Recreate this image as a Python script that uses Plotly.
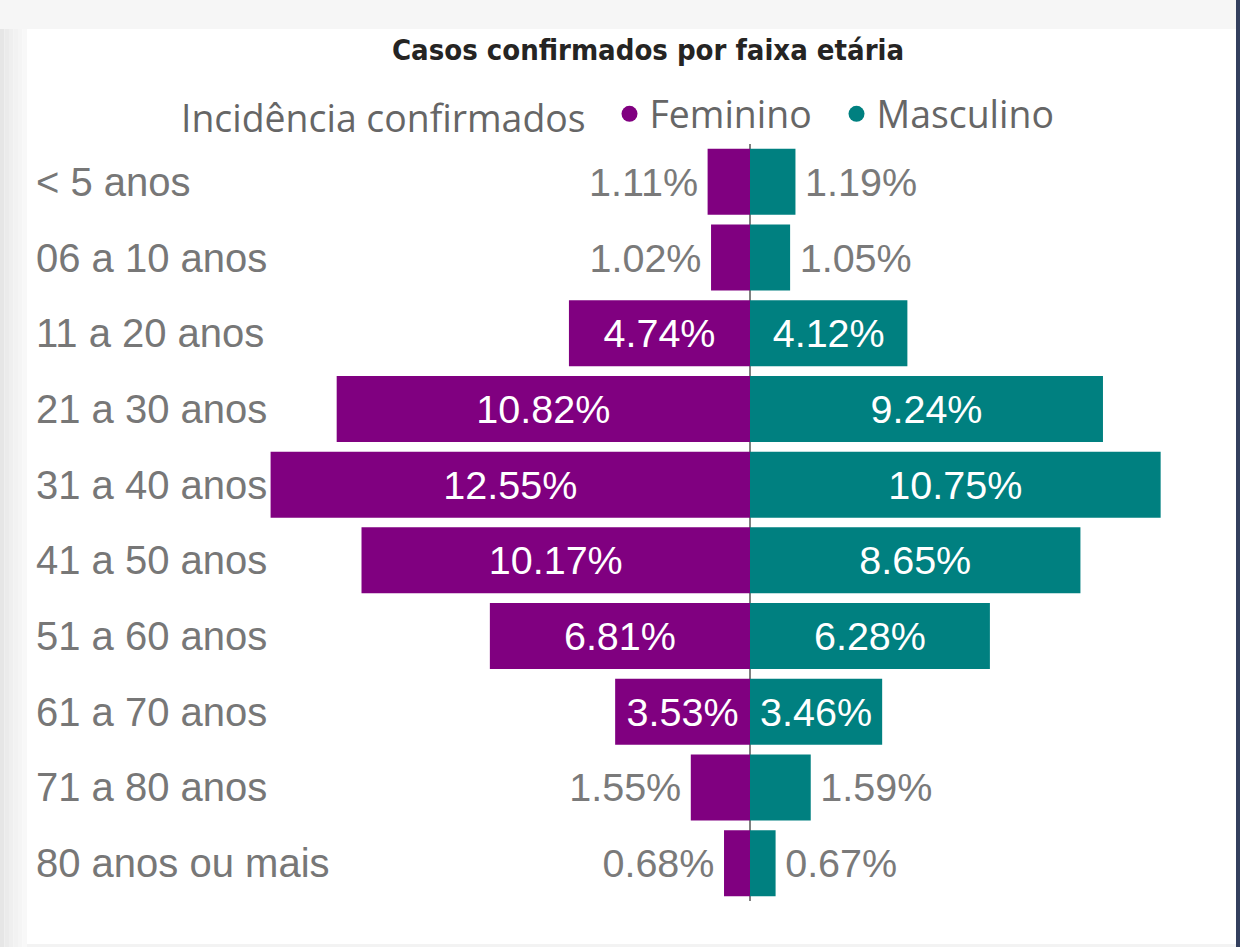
import plotly.graph_objects as go

# ---- data ----
categories = ["< 5 anos", "06 a 10 anos", "11 a 20 anos", "21 a 30 anos", "31 a 40 anos",
              "41 a 50 anos", "51 a 60 anos", "61 a 70 anos", "71 a 80 anos", "80 anos ou mais"]
feminino = [1.11, 1.02, 4.74, 10.82, 12.55, 10.17, 6.81, 3.53, 1.55, 0.68]
masculino = [1.19, 1.05, 4.12, 9.24, 10.75, 8.65, 6.28, 3.46, 1.59, 0.67]
series_names = ["Feminino", "Masculino"]
series_colors = ["#800080", "#008080"]
title_text = "Casos confirmados por faixa etária"
legend_title = "Incidência confirmados"

W, H = 1240, 947
M_T, M_B = 144, 46
PLOT_H = H - M_T - M_B
INSIDE_MIN = 3.0          # labels go inside bars at least this wide
PAD = "\u2006"            # small gap between bar end and outside label


def py(px):
    """pixel y (from top) -> paper y"""
    return (H - M_B - px) / PLOT_H


def pxx(px):
    return px / W


label_font = dict(family="Liberation Sans, Arial", size=39.5)


def labels(vals, side):
    out = []
    for v in vals:
        s = f"{v:.2f}%"
        if v < INSIDE_MIN:
            s = s + PAD if side == "left" else PAD + s
        out.append(s)
    return out


def positions(vals):
    return ["inside" if v >= INSIDE_MIN else "outside" for v in vals]


fig = go.Figure()
fig.add_trace(go.Bar(
    y=categories, x=[-v for v in feminino], orientation="h",
    name=series_names[0], marker=dict(color=series_colors[0], line=dict(width=0)),
    text=labels(feminino, "left"), textposition=positions(feminino), textangle=0,
    insidetextanchor="middle", constraintext="none", cliponaxis=False,
    insidetextfont=dict(color="white", **label_font),
    outsidetextfont=dict(color="#7a7a7a", **label_font),
    showlegend=False, hoverinfo="skip",
))
fig.add_trace(go.Bar(
    y=categories, x=masculino, orientation="h",
    name=series_names[1], marker=dict(color=series_colors[1], line=dict(width=0)),
    text=labels(masculino, "right"), textposition=positions(masculino), textangle=0,
    insidetextanchor="middle", constraintext="none", cliponaxis=False,
    insidetextfont=dict(color="white", **label_font),
    outsidetextfont=dict(color="#7a7a7a", **label_font),
    showlegend=False, hoverinfo="skip",
))
# legend entries (circle markers)
for n, c in zip(series_names, series_colors):
    fig.add_trace(go.Scatter(x=[None], y=[None], mode="markers", name=n,
                             marker=dict(color=c, size=18, symbol="circle"), showlegend=True))

# category labels, left-aligned
for cat in categories:
    fig.add_annotation(x=pxx(34), xref="paper", y=cat, yref="y", text=cat, showarrow=False,
                       xanchor="left", yanchor="middle",
                       font=dict(family="Liberation Sans, Arial", size=40, color="#777777"))

# card background pieces
shapes = []
shapes.append(dict(type="rect", xref="paper", yref="paper", x0=0, x1=1, y0=py(0), y1=py(29),
                   fillcolor="#f6f6f6", line=dict(width=0), layer="below"))
for i, col in enumerate(["#e6e6e6", "#ebebeb", "#efefef", "#f2f2f2", "#f5f5f5", "#f8f8f8"]):
    shapes.append(dict(type="rect", xref="paper", yref="paper", x0=pxx(i * 4.5), x1=pxx(i * 4.5 + 4.5),
                       y0=py(29), y1=py(H), fillcolor=col, line=dict(width=0), layer="below"))
shapes.append(dict(type="rect", xref="paper", yref="paper", x0=pxx(1236), x1=1, y0=py(0), y1=py(H),
                   fillcolor="#34405e", line=dict(width=0), layer="below"))
shapes.append(dict(type="rect", xref="paper", yref="paper", x0=pxx(27), x1=pxx(1236), y0=py(944), y1=py(H),
                   fillcolor="#f3f3f3", line=dict(width=0), layer="below"))

fig.update_layout(
    width=W, height=H,
    margin=dict(l=0, r=0, t=M_T, b=M_B, pad=0),
    paper_bgcolor="white", plot_bgcolor="rgba(0,0,0,0)",
    barmode="relative", bargap=0.128,
    shapes=shapes,
    title=dict(text=title_text, x=648 / W, xanchor="center", xref="paper",
               y=1 - 50 / H, yanchor="middle", yref="container",
               font=dict(family="DejaVu Sans Condensed, DejaVu Sans", size=29, color="#252423", weight="bold")),
    legend=dict(orientation="h", x=pxx(179), xanchor="left", y=py(114), yanchor="middle",
                title=dict(text=legend_title + "\u00a0\u2009", side="left",
                           font=dict(family="Open Sans", size=37.4, color="#666666")),
                font=dict(family="Open Sans", size=37.4, color="#666666"),
                entrywidth=182, entrywidthmode="pixels",
                bgcolor="rgba(0,0,0,0)", borderwidth=0, itemsizing="trace"),
    xaxis=dict(range=[-750 / 38.2, 490 / 38.2], showgrid=False, showticklabels=False, ticks="",
               zeroline=True, zerolinecolor="#808080", zerolinewidth=2, fixedrange=True),
    yaxis=dict(autorange="reversed", showgrid=False, showticklabels=False, ticks="",
               zeroline=False, fixedrange=True),
    showlegend=True,
)

fig.write_html("out.html", config={"displayModeBar": False},
               post_script="document.body.style.margin='0';document.body.style.overflow='hidden';")
